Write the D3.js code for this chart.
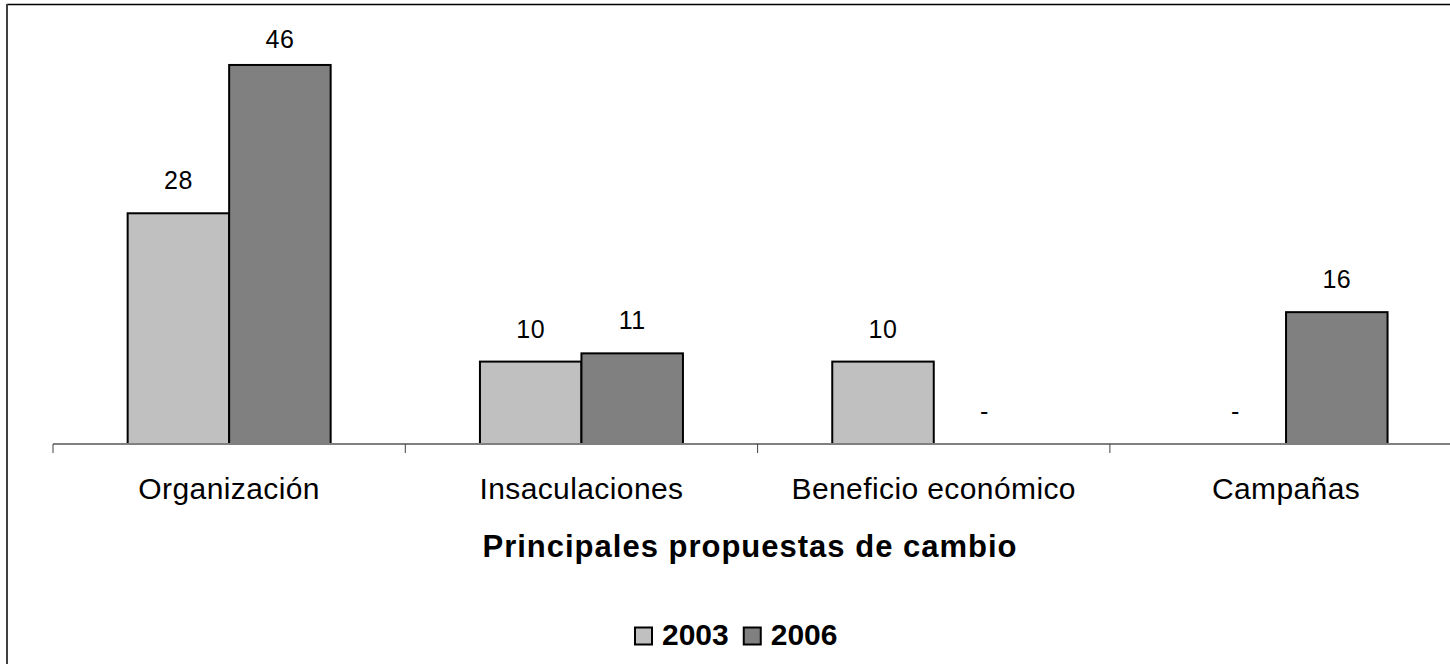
<!DOCTYPE html>
<html>
<head>
    <meta charset="utf-8" />
    <title>Principales propuestas de cambio</title>
    <script src="https://d3js.org/d3.v7.min.js"></script>
    <style>
        body { margin: 0; background: #fff; }
        svg { display: block; font-family: "Liberation Sans", Arial, sans-serif; }
        .val { font-size: 25px; letter-spacing: 0.5px; text-anchor: middle; fill: #000; }
        .cat { font-size: 30px; letter-spacing: 0.4px; text-anchor: middle; fill: #000; }
        .title { font-size: 31px; font-weight: bold; letter-spacing: 1px; text-anchor: middle; }
        .leg { font-size: 30px; font-weight: bold; }
    </style>
</head>
<body>
<script>
    // data
    var categories = ["Organización", "Insaculaciones", "Beneficio económico", "Campañas"];
    var series = ["2003", "2006"];
    var values2003 = [28, 10, 10, 0];
    var values2006 = [46, 11, 0, 16];
    var colors = ["#c0c0c0", "#808080"];

    var W = 1450, H = 664;
    var svg = d3.select("body").append("svg").attr("width", W).attr("height", H);

    // chart frame (only top and left edges fall inside the picture)
    svg.append("line").attr("x1", 7).attr("x2", W).attr("y1", 4.5).attr("y2", 4.5)
        .attr("stroke", "#000").attr("stroke-width", 1.5);
    svg.append("line").attr("x1", 7).attr("x2", 7).attr("y1", 4).attr("y2", H)
        .attr("stroke", "#404040").attr("stroke-width", 2);

    var x = d3.scaleBand().domain(categories).range([53, 53 + 4 * 352.3]);
    var y = d3.scaleLinear().domain([0, 50]).range([444, 32]);
    var groupW = 203;
    var xs = d3.scaleBand().domain(series).range([-groupW / 2, groupW / 2]);

    var rows = categories.map(function(c, i) {
        return { cat: c, vals: [values2003[i], values2006[i]] };
    });

    var g = svg.append("g");
    rows.forEach(function(r) {
        var cx = x(r.cat) + x.bandwidth() / 2;
        r.vals.forEach(function(v, j) {
            var bx = cx + xs(series[j]);
            if (v > 0) {
                g.append("rect")
                    .attr("x", bx).attr("y", y(v))
                    .attr("width", xs.bandwidth()).attr("height", y(0) - y(v))
                    .attr("fill", colors[j]).attr("stroke", "#000").attr("stroke-width", 2);
            }
            g.append("text").attr("class", "val")
                .attr("x", bx + xs.bandwidth() / 2)
                .attr("y", Math.max(y(v) - 24, 48))
                .text(v > 0 ? v : "-");
        });
    });

    // x axis
    var axis = svg.append("g");
    axis.append("line").attr("x1", 53).attr("x2", W).attr("y1", y(0)).attr("y2", y(0))
        .attr("stroke", "#808080").attr("stroke-width", 2);
    categories.forEach(function(c) {
        axis.append("line").attr("x1", x(c)).attr("x2", x(c))
            .attr("y1", y(0)).attr("y2", y(0) + 9)
            .attr("stroke", "#404040").attr("stroke-width", 1);
        axis.append("text").attr("class", "cat")
            .attr("x", x(c) + x.bandwidth() / 2).attr("y", 499)
            .text(c);
    });

    svg.append("text").attr("class", "title").attr("x", 750).attr("y", 557)
        .text("Principales propuestas de cambio");

    // legend
    var lx = 634;
    series.forEach(function(s, i) {
        svg.append("rect").attr("x", lx + 1).attr("y", 627.5).attr("width", 17).attr("height", 17)
            .attr("fill", colors[i]).attr("stroke", "#000").attr("stroke-width", 2);
        var t = svg.append("text").attr("class", "leg").attr("x", lx + 28).attr("y", 645).text(s);
        lx += 28 + t.node().getComputedTextLength() + 14;
    });
</script>
</body>
</html>
